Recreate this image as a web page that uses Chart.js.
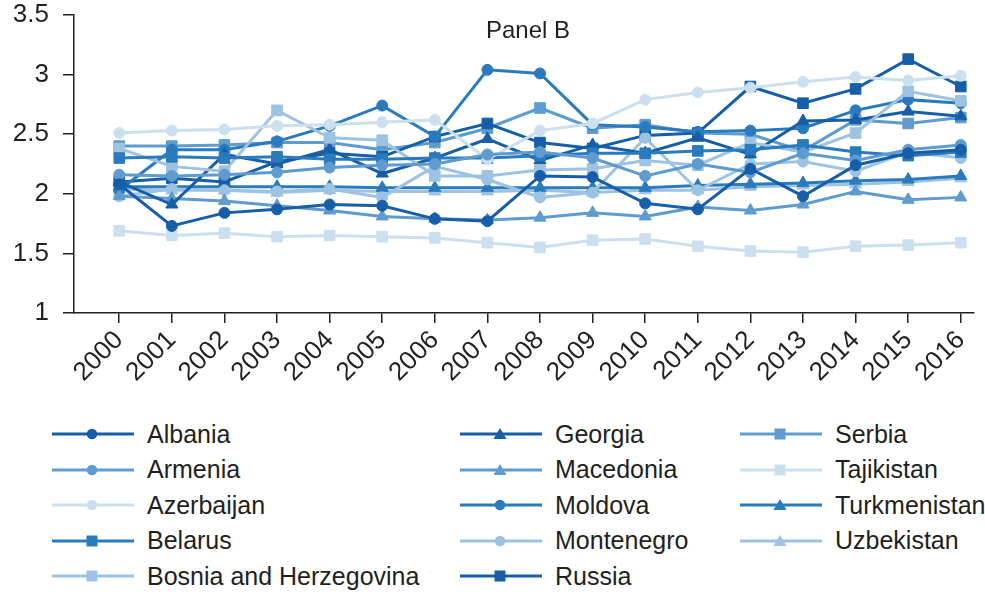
<!DOCTYPE html>
<html>
<head>
<meta charset="utf-8">
<script src="https://cdn.jsdelivr.net/npm/chart.js@4.4.1/dist/chart.umd.min.js"></script>
<style>
    body { margin: 0; background: #fff; font-family: "Liberation Sans", Arial, sans-serif; }
    #wrap { position: relative; width: 985px; height: 595px; }
    #chart { position: absolute; left: 0; top: 0; }
    .item { position: absolute; height: 30px; display: flex; align-items: center; font-size: 25px; color: #231f20; white-space: nowrap; }
    .item svg { margin-right: 13px; }
</style>
</head>
<body>
<div id="wrap">
    <canvas id="chart" width="985" height="400"></canvas>
    <div id="legend"></div>
</div>
<script>
const years = [2000, 2001, 2002, 2003, 2004, 2005, 2006, 2007, 2008, 2009, 2010, 2011, 2012, 2013, 2014, 2015, 2016];
const yTicks = [1, 1.5, 2, 2.5, 3, 3.5];

const countries = ['Albania', 'Armenia', 'Azerbaijan', 'Belarus', 'Bosnia and Herzegovina',
    'Georgia', 'Macedonia', 'Moldova', 'Montenegro', 'Russia',
    'Serbia', 'Tajikistan', 'Turkmenistan', 'Uzbekistan'];

const albania      = [2.08, 1.73, 1.84, 1.87, 1.91, 1.90, 1.79, 1.77, 2.15, 2.14, 1.92, 1.87, 2.21, 1.98, 2.24, 2.34, 2.37];
const armenia      = [2.16, 2.15, 2.16, 2.18, 2.22, 2.24, 2.25, 2.33, 2.35, 2.30, 2.15, 2.25, 2.18, 2.34, 2.28, 2.37, 2.41];
const azerbaijan   = [2.51, 2.53, 2.54, 2.57, 2.58, 2.60, 2.62, 2.29, 2.53, 2.59, 2.79, 2.85, 2.89, 2.94, 2.98, 2.95, 2.99];
const belarus      = [2.30, 2.31, 2.30, 2.31, 2.29, 2.29, 2.30, 2.30, 2.32, 2.34, 2.34, 2.36, 2.37, 2.41, 2.35, 2.32, 2.35];
const bosnia       = [2.38, 2.23, 2.19, 2.70, 2.47, 2.45, 2.15, 2.15, 2.20, 2.21, 2.28, 2.24, 2.43, 2.35, 2.51, 2.86, 2.78];
const georgia      = [2.10, 1.91, 2.33, 2.25, 2.37, 2.17, 2.30, 2.46, 2.28, 2.41, 2.34, 2.47, 2.33, 2.61, 2.62, 2.69, 2.65];
const macedonia    = [1.98, 1.96, 1.94, 1.90, 1.86, 1.81, 1.79, 1.78, 1.80, 1.84, 1.81, 1.89, 1.86, 1.91, 2.02, 1.95, 1.97];
const moldova      = [2.03, 2.37, 2.37, 2.44, 2.57, 2.74, 2.48, 3.04, 3.01, 2.58, 2.56, 2.52, 2.53, 2.55, 2.70, 2.79, 2.76];
const montenegro   = [1.98, 2.04, 2.03, 2.02, 2.04, 1.97, 2.23, 2.12, 1.97, 2.01, 2.47, 2.03, 2.25, 2.27, 2.19, 2.35, 2.30];
const russia       = [2.10, 2.13, 2.10, 2.27, 2.34, 2.31, 2.48, 2.59, 2.43, 2.38, 2.49, 2.51, 2.90, 2.76, 2.88, 3.13, 2.90];
const serbia       = [2.40, 2.40, 2.41, 2.43, 2.43, 2.37, 2.43, 2.55, 2.72, 2.55, 2.58, 2.51, 2.50, 2.36, 2.62, 2.59, 2.64];
const tajikistan   = [1.69, 1.65, 1.67, 1.64, 1.65, 1.64, 1.63, 1.59, 1.55, 1.61, 1.62, 1.56, 1.52, 1.51, 1.56, 1.57, 1.59];
const turkmenistan = [2.06, 2.06, 2.06, 2.06, 2.06, 2.05, 2.05, 2.05, 2.05, 2.05, 2.05, 2.07, 2.08, 2.09, 2.11, 2.12, 2.15];
const uzbekistan   = [2.04, 2.03, 2.03, 2.01, 2.03, 2.02, 2.02, 2.02, 2.03, 2.01, 2.03, 2.03, 2.06, 2.07, 2.08, 2.10, 2.13];

const values = [albania, armenia, azerbaijan, belarus, bosnia, georgia, macedonia,
    moldova, montenegro, russia, serbia, tajikistan, turkmenistan, uzbekistan];

// five blues, darkest first
const blues = ['#175ea8', '#2a7bbd', '#5f9bcf', '#9dc2e2', '#cbe0ef'];
const styles = [
    [0, 'circle'], [2, 'circle'], [4, 'circle'], [1, 'rect'], [3, 'rect'],
    [0, 'triangle'], [2, 'triangle'], [1, 'circle'], [3, 'circle'], [0, 'rect'],
    [2, 'rect'], [4, 'rect'], [1, 'triangle'], [3, 'triangle']
];
const radius = { circle: 5.5, rect: 7.5, triangle: 7 };

const textColor = '#231f20';
const family = '"Liberation Sans", Arial, sans-serif';

const datasets = countries.map((name, i) => {
    const colour = blues[styles[i][0]];
    const shape = styles[i][1];
    return {
        label: name,
        data: years.map((yr, j) => ({ x: yr, y: values[i][j] })),
        borderColor: colour,
        backgroundColor: colour,
        borderWidth: 3,
        pointStyle: shape,
        pointRadius: radius[shape],
        pointBorderWidth: 1,
        pointHoverRadius: radius[shape]
    };
});

const panelTitle = {
    id: 'panelTitle',
    afterDraw(chart) {
        const { ctx, chartArea } = chart;
        ctx.save();
        ctx.font = '24px ' + family;
        ctx.fillStyle = textColor;
        ctx.textAlign = 'center';
        ctx.textBaseline = 'middle';
        ctx.fillText('Panel B', (chartArea.left + chartArea.right) / 2 + 4, 31);
        ctx.restore();
    }
};

new Chart('chart', {
    type: 'line',
    data: { datasets: datasets },
    options: {
        responsive: false,
        animation: false,
        layout: { padding: { top: 15, right: 10, left: 0, bottom: 0 } },
        plugins: {
            legend: { display: false },
            tooltip: { enabled: false }
        },
        scales: {
            x: {
                type: 'linear',
                min: 1999.14,
                max: 2016.25,
                afterBuildTicks: s => { s.ticks = years.map(v => ({ value: v })); },
                afterFit: s => { s.height = 87; },
                ticks: {
                    autoSkip: false,
                    minRotation: 45,
                    maxRotation: 45,
                    padding: 2,
                    color: textColor,
                    font: { size: 26, family: family },
                    callback: v => String(v)
                },
                grid: { drawOnChartArea: false, tickLength: 10, color: textColor, lineWidth: 1.5 },
                border: { color: textColor, width: 1.5 }
            },
            y: {
                min: 1,
                max: 3.5,
                afterBuildTicks: s => { s.ticks = yTicks.map(v => ({ value: v })); },
                afterFit: s => {
                    s.width = 74;
                    // let the top tick label sit above the plot without pushing it down
                    s.paddingTop = 0;
                },
                ticks: {
                    padding: 14,
                    color: textColor,
                    font: { size: 26, family: family },
                    callback: v => String(v)
                },
                grid: { drawOnChartArea: false, tickLength: 11, color: textColor, lineWidth: 1.5 },
                border: { color: textColor, width: 1.5 }
            }
        }
    },
    plugins: [panelTitle]
});

// legend in three columns, filled top to bottom
const legend = document.getElementById('legend');
const colX = [52, 460, 740];
countries.forEach((name, i) => {
    const col = Math.floor(i / 5);
    const row = i % 5;
    const colour = blues[styles[i][0]];
    const shape = styles[i][1];
    let marker;
    if (shape === 'circle')
        marker = `<circle cx="40" cy="10" r="5.3" fill="${colour}"/>`;
    else if (shape === 'rect')
        marker = `<rect x="34.5" y="4.5" width="11" height="11" fill="${colour}"/>`;
    else
        marker = `<polygon points="40,4 46.5,15 33.5,15" fill="${colour}"/>`;
    const item = document.createElement('div');
    item.className = 'item';
    item.style.left = colX[col] + 'px';
    item.style.top = (434 + row * 35.5 - 15) + 'px';
    item.innerHTML = `<svg width="82" height="20"><line x1="0" y1="10" x2="82" y2="10" stroke="${colour}" stroke-width="3"/>${marker}</svg><span>${name}</span>`;
    legend.appendChild(item);
});
</script>
</body>
</html>
